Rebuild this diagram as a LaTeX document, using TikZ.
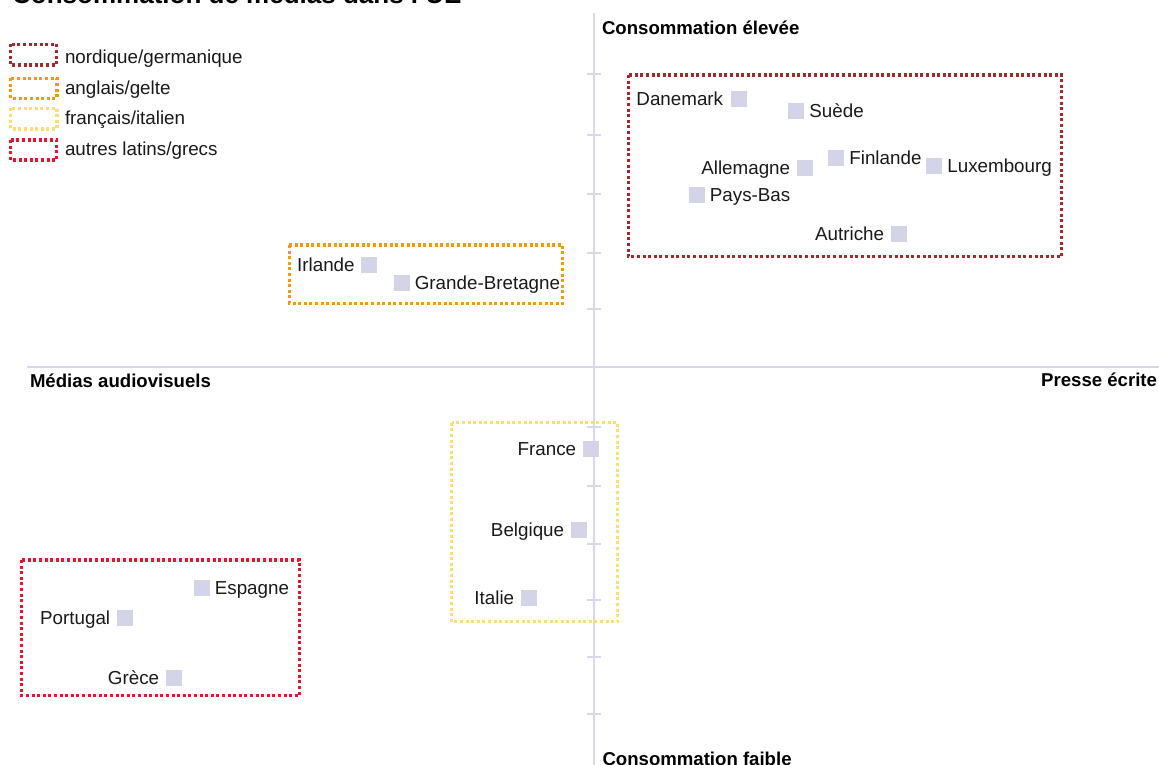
\documentclass[tikz,border=0pt]{standalone}
\usepackage{fontspec}
\setmainfont{Liberation Sans}
\definecolor{axisc}{HTML}{D8D8EA}
\definecolor{markc}{HTML}{D4D4E8}
\definecolor{nordc}{HTML}{A42A2A}
\definecolor{anglc}{HTML}{F39A0B}
\definecolor{franc}{HTML}{FFDE6E}
\definecolor{latic}{HTML}{E8132C}
\begin{document}
\begin{tikzpicture}[x=1pt,y=-1pt,
  axisline/.style={draw=axisc,line width=2pt},
  mk/.style={fill=markc,draw=none,minimum size=15.7pt,inner sep=0pt,outer sep=0pt},
  lbl/.style={inner sep=0pt,outer sep=0pt,font=\fontsize{18.8}{22}\selectfont,text=black!90},
  bl/.style={inner sep=0pt,outer sep=0pt,font=\fontsize{18.6}{22}\selectfont\bfseries,text=black},
  grp/.style={line width=3.2pt,dash pattern=on 3pt off 2.6pt},
]
\useasboundingbox (0,0) rectangle (1159,765);
% title (cut at the top)
\node[inner sep=0pt,anchor=base west,font=\fontsize{26}{30}\selectfont\bfseries] (title) at (12,3.3) {Consommation de médias dans l'UE};
% axes
\coordinate (vtop) at (594,13);
\coordinate (vbot) at (594,765);
\coordinate (hl) at (27,367);
\coordinate (hr) at (1159,367);
\draw[axisline] (vtop) -- (vbot);
\draw[axisline] (hl) -- (hr);
\foreach \t in {74,135.5,194.3,252.7,309.3,427.3,485.7,544,600,657,713.7}{
  \draw[axisline] (587,\t) -- (601,\t);
}
% axis labels
\node[bl,anchor=base west] (high) at (602,34.3) {Consommation élevée};
\node[bl,anchor=base west] (low) at (602.5,765) {Consommation faible};
\node[bl,anchor=base west] (av) at (30,387) {Médias audiovisuels};
\node[bl,anchor=base east] (pe) at (1157,386.5) {Presse écrite};
% legend
\draw[grp,nordc] (10.5,44.5) rectangle (56.5,65);
\draw[grp,anglc] (10.8,78.3) rectangle (57,98.3);
\draw[grp,franc] (10.8,108.5) rectangle (57,129);
\draw[grp,latic] (10.5,140) rectangle (56.5,160);
\node[lbl,anchor=base west] (lg1) at (65,63.3) {nordique/germanique};
\node[lbl,anchor=base west] (lg2) at (65,95) {anglais/gelte};
\node[lbl,anchor=base west] (lg3) at (65,125) {français/italien};
\node[lbl,anchor=base west] (lg4) at (65,155.7) {autres latins/grecs};
% group boxes
\draw[grp,nordc] (628.3,75) rectangle (1061.7,256.7);
\draw[grp,anglc] (289.3,245) rectangle (562.7,303.3);
\draw[grp,franc] (451.7,422.7) rectangle (617.7,621.7);
\draw[grp,latic] (21.7,560) rectangle (299.3,695.7);
% markers
\node[mk] (dk) at (739,99) {};
\node[mk] (se) at (796,111) {};
\node[mk] (fi) at (836,158) {};
\node[mk] (de) at (805,168) {};
\node[mk] (lu) at (934,166) {};
\node[mk] (nl) at (697,194.7) {};
\node[mk] (at) at (899,234) {};
\node[mk] (ie) at (369,265) {};
\node[mk] (gb) at (402,283) {};
\node[mk] (fr) at (591,449) {};
\node[mk] (be) at (579,530) {};
\node[mk] (it) at (529,598) {};
\node[mk] (es) at (202,588) {};
\node[mk] (pt) at (125,618) {};
\node[mk] (gr) at (174,678) {};
% labels
\node[lbl,anchor=base east] (dkl) at ([xshift=-8pt,yshift=-6.7pt]dk.west) {Danemark};
\node[lbl,anchor=base west] (sel) at ([xshift=5.5pt,yshift=-6.7pt]se.east) {Suède};
\node[lbl,anchor=base west] (fil) at ([xshift=5.5pt,yshift=-6.7pt]fi.east) {Finlande};
\node[lbl,anchor=base east] (del) at ([xshift=-7pt,yshift=-6.7pt]de.west) {Allemagne};
\node[lbl,anchor=base west] (lul) at ([xshift=5.5pt,yshift=-6.7pt]lu.east) {Luxembourg};
\node[lbl,anchor=base west] (nll) at ([xshift=5pt,yshift=-6.7pt]nl.east) {Pays-Bas};
\node[lbl,anchor=base east] (atl) at ([xshift=-7pt,yshift=-6.7pt]at.west) {Autriche};
\node[lbl,anchor=base east] (iel) at ([xshift=-6.5pt,yshift=-6.7pt]ie.west) {Irlande};
\node[lbl,anchor=base west] (gbl) at ([xshift=5pt,yshift=-6.7pt]gb.east) {Grande-Bretagne};
\node[lbl,anchor=base east] (frl) at ([xshift=-7pt,yshift=-6.7pt]fr.west) {France};
\node[lbl,anchor=base east] (bel) at ([xshift=-7pt,yshift=-6.7pt]be.west) {Belgique};
\node[lbl,anchor=base east] (itl) at ([xshift=-7pt,yshift=-6.7pt]it.west) {Italie};
\node[lbl,anchor=base west] (esl) at ([xshift=5pt,yshift=-6.7pt]es.east) {Espagne};
\node[lbl,anchor=base east] (ptl) at ([xshift=-7pt,yshift=-6.7pt]pt.west) {Portugal};
\node[lbl,anchor=base east] (grl) at ([xshift=-7pt,yshift=-6.7pt]gr.west) {Grèce};
\end{tikzpicture}
\end{document}
